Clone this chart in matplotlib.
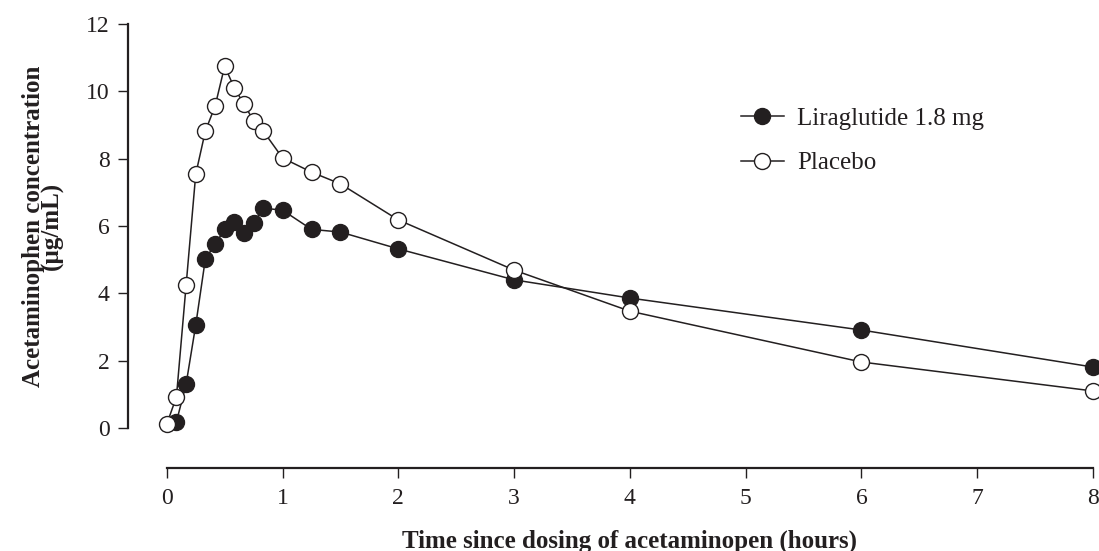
import matplotlib
matplotlib.use("Agg")
import matplotlib.pyplot as plt

# time points in hours
time_lira = [0.083, 0.167, 0.25, 0.333, 0.417, 0.5, 0.583, 0.667, 0.75, 0.833,
             1.0, 1.25, 1.5, 2.0, 3.0, 4.0, 6.0, 8.0]
conc_lira = [0.18, 1.31, 3.06, 5.02, 5.46, 5.9, 6.12, 5.8, 6.09, 6.53,
             6.47, 5.9, 5.82, 5.32, 4.4, 3.86, 2.91, 1.81]

time_plac = [0.0, 0.083, 0.167, 0.25, 0.333, 0.417, 0.5, 0.583, 0.667, 0.75, 0.833,
             1.0, 1.25, 1.5, 2.0, 3.0, 4.0, 6.0, 8.0]
conc_plac = [0.12, 0.92, 4.25, 7.54, 8.82, 9.56, 10.75, 10.1, 9.62, 9.12, 8.82,
             8.02, 7.6, 7.25, 6.18, 4.69, 3.47, 1.96, 1.1]

xticks = [0, 1, 2, 3, 4, 5, 6, 7, 8]
yticks = [0, 2, 4, 6, 8, 10, 12]

ink = "#231f20"
plt.rcParams["font.family"] = ["Liberation Serif", "DejaVu Serif"]

fig = plt.figure(figsize=(10.99, 5.51), dpi=100)
ax = fig.add_axes([166.8 / 1099, 1 - 428 / 551, (1093 - 166.8) / 1099, (428 - 24) / 551])

ax.plot(time_lira, conc_lira, color=ink, lw=1.1, marker="o", ms=11.5,
        mfc=ink, mec=ink, mew=1.0, clip_on=False, label="Liraglutide 1.8 mg", zorder=3)
ax.plot(time_plac, conc_plac, color=ink, lw=1.1, marker="o", ms=11.5,
        mfc="white", mec=ink, mew=1.0, clip_on=False, label="Placebo", zorder=4)

ax.set_xlim(0, 8)
ax.set_ylim(0, 12)
ax.set_xticks(xticks)
ax.set_yticks(yticks)

# spines offset in points (px * 0.72)
for s in ["top", "right"]:
    ax.spines[s].set_visible(False)
ax.spines["left"].set_position(("outward", 28))
ax.spines["bottom"].set_position(("outward", 29))
ax.spines["left"].set_bounds(0, 12)
ax.spines["bottom"].set_bounds(0, 8)
for s in ["left", "bottom"]:
    ax.spines[s].set_linewidth(1.6)
    ax.spines[s].set_color(ink)

ax.tick_params(axis="both", direction="out", length=7, width=1.0, color=ink,
               labelsize=17, labelcolor=ink)
ax.tick_params(axis="x", pad=7)
ax.tick_params(axis="y", pad=6)

ax.set_xlabel("Time since dosing of acetaminopen (hours)", fontsize=18,
              fontweight="bold", color=ink, labelpad=15)
ax.set_ylabel("Acetaminophen concentration\n(µg/mL)", fontsize=18,
              fontweight="bold", color=ink, labelpad=16, linespacing=0.75)

leg = ax.legend(loc="upper left", bbox_to_anchor=(718 / 1099, 1 - 85 / 551),
                bbox_transform=fig.transFigure, frameon=False, fontsize=18,
                handlelength=1.75, handletextpad=0.5, labelspacing=0.87,
                labelcolor=ink)

fig.savefig("out.png", dpi=100)
